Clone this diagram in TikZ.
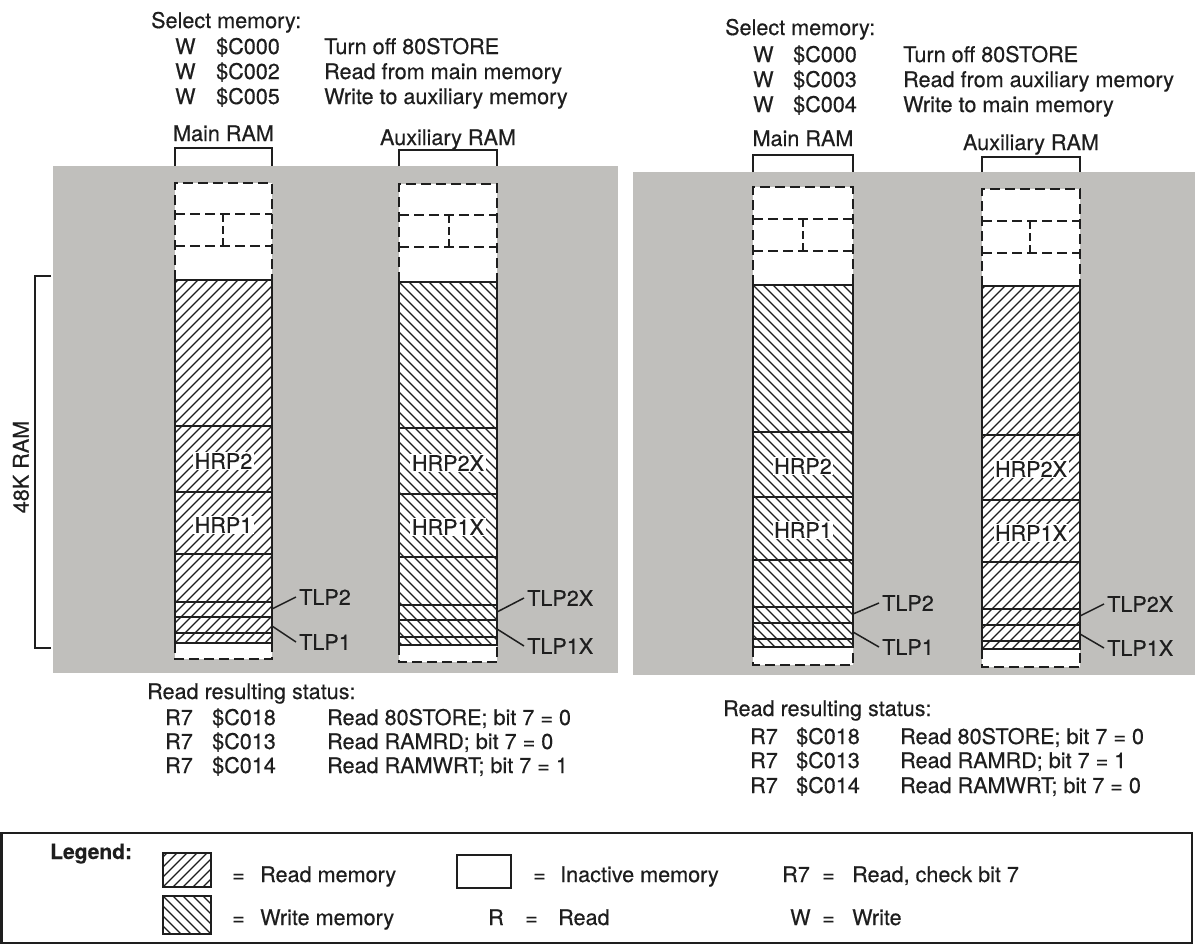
\documentclass[tikz,border=0pt]{standalone}
\usepackage{fontspec}
\setmainfont{TeX Gyre Heros}[FakeBold=0.4]
\definecolor{ink}{RGB}{30,30,30}
\definecolor{panelgray}{RGB}{192,191,188}
\newcommand\hatchfill[5]{%
  \begin{scope}
    \clip (#1,#2) rectangle (#3,#4);
    \foreach \s in {-400,-390,...,120}{%
      \ifnum#5=1 \draw[hatchline] (#1+\s,#4) -- ++(430,-430);%
      \else \draw[hatchline] (#1+\s,#2) -- ++(430,430);\fi}
  \end{scope}}
\begin{document}
\begin{tikzpicture}[x=1pt,y=-1pt,
  every node/.style={font=\fontsize{21.6}{25}\selectfont, text=ink, inner sep=0pt},
  lbl/.style={anchor=base west},
  cl/.style={anchor=base},
  solidline/.style={line width=2pt, draw=ink},
  sepline/.style={line width=1.6pt, draw=ink},
  dashline/.style={line width=2pt, draw=ink, dash pattern=on 10pt off 5pt},
  hatchline/.style={line width=1.3pt, draw=ink},
  hrp/.style={fill=white, inner sep=1.5pt},
  tlp/.style={anchor=west, inner xsep=3pt},
  leader/.style={line width=1.5pt, draw=ink},
]
\useasboundingbox (0,0) rectangle (1195,948);
\fill[white] (0,0) rectangle (1195,948);

% gray panels
\fill[panelgray] (53,166) rectangle (618,673);
\fill[panelgray] (633,172) rectangle (1195,675);

% memory columns
\foreach \xa/\xb/\ybr/\yg/\yd/\ya/\yb/\xi/\yh/\yp/\yq/\yr/\ys/\yt/\yu/\yv/\ye/\dir in {
  175/272/148/166/183/214/246/223/280/426/492/554/602/617/633/643/659/1,
  399/497/150/166/184/215/247/449/282/428/494/557/605/620/637/645/662/-1,
  753/853/155/172/187/219/251/803/285/432/497/560/607/623/639/647/665/-1,
  982/1080/157/172/189/221/253/1030/286/435/500/562/609/625/641/649/667/1}{
  \draw[solidline] (\xa,\yg) -- (\xa,\ybr) -- (\xb,\ybr) -- (\xb,\yg);
  \fill[white] (\xa,\yd) rectangle (\xb,\ye);
  \hatchfill{\xa}{\yh}{\xb}{\yv}{\dir}
  \draw[dashline] (\xa,\yh) -- (\xa,\yd) -- (\xb,\yd) -- (\xb,\yh);
  \draw[dashline] (\xa,\ya) -- (\xb,\ya);
  \draw[dashline] (\xa,\yb) -- (\xb,\yb);
  \draw[dashline, dash pattern=on 8pt off 4pt] (\xi,\ya) -- (\xi,\yb);
  \draw[dashline] (\xa,\yv) -- (\xa,\ye) -- (\xb,\ye) -- (\xb,\yv);
  \draw[solidline] (\xa,\yh) rectangle (\xb,\yv);
  \foreach \yy in {\yp,\yq,\yr,\ys,\yt,\yu}{\draw[sepline] (\xa,\yy) -- (\xb,\yy);}
}

% HRP labels
\node[hrp] (hrp2L) at (223.5,461) {HRP2};
\node[hrp] (hrp1L) at (223.5,525) {HRP1};
\node[hrp] (hrp2xL) at (448,463) {HRP2X};
\node[hrp] (hrp1xL) at (448,527) {HRP1X};
\node[hrp] (hrp2R) at (803,466) {HRP2};
\node[hrp] (hrp1R) at (803,530) {HRP1};
\node[hrp] (hrp2xR) at (1031,469) {HRP2X};
\node[hrp] (hrp1xR) at (1031,533) {HRP1X};

% TLP labels and leaders
\node[tlp] (tlp2L) at (296,597) {TLP2};
\node[tlp] (tlp1L) at (296,642) {TLP1};
\node[tlp] (tlp2xL) at (524,598) {TLP2X};
\node[tlp] (tlp1xL) at (524,646) {TLP1X};
\node[tlp] (tlp2R) at (879,603) {TLP2};
\node[tlp] (tlp1R) at (879,647) {TLP1};
\node[tlp] (tlp2xR) at (1104,604) {TLP2X};
\node[tlp] (tlp1xR) at (1104,648) {TLP1X};
\coordinate (c2L) at (272,609);  \coordinate (c1L) at (272,626);
\coordinate (c2xL) at (497,612); \coordinate (c1xL) at (497,629);
\coordinate (c2R) at (853,614);  \coordinate (c1R) at (853,632);
\coordinate (c2xR) at (1080,616); \coordinate (c1xR) at (1080,634);
\draw[leader] (c2L) -- (tlp2L.west);
\draw[leader] (c1L) -- (tlp1L.west);
\draw[leader] (c2xL) -- (tlp2xL.west);
\draw[leader] (c1xL) -- (tlp1xL.west);
\draw[leader] (c2R) -- (tlp2R.west);
\draw[leader] (c1R) -- (tlp1R.west);
\draw[leader] (c2xR) -- (tlp2xR.west);
\draw[leader] (c1xR) -- (tlp1xR.west);

% 48K RAM bracket
\coordinate (k48t) at (51,276);
\coordinate (k48b) at (51,648);
\draw[solidline] (k48t) -- (35,276) -- (35,648) -- (k48b);
\node[rotate=90] (k48) at (21,467) {48K RAM};

% top texts left
\node[lbl] (selL) at (151,28) {Select memory:};
\node[lbl] (wL1) at (175,54) {W};  \node[lbl] (aL1) at (216,54) {\$C000}; \node[lbl] (dL1) at (324,54) {Turn off 80STORE};
\node[lbl] (wL2) at (175,79) {W};  \node[lbl] (aL2) at (216,79) {\$C002}; \node[lbl] (dL2) at (324,79) {Read from main memory};
\node[lbl] (wL3) at (175,104) {W}; \node[lbl] (aL3) at (216,104) {\$C005}; \node[lbl] (dL3) at (324,104) {Write to auxiliary memory};
\node[cl] (mainL) at (223.5,141) {Main RAM};
\node[cl] (auxL) at (448,145) {Auxiliary RAM};

% top texts right
\node[lbl] (selR) at (725,35) {Select memory:};
\node[lbl] (wR1) at (753,62) {W};  \node[lbl] (aR1) at (793,62) {\$C000}; \node[lbl] (dR1) at (903,62) {Turn off 80STORE};
\node[lbl] (wR2) at (753,87) {W};  \node[lbl] (aR2) at (793,87) {\$C003}; \node[lbl] (dR2) at (903,87) {Read from auxiliary memory};
\node[lbl] (wR3) at (753,112) {W}; \node[lbl] (aR3) at (793,112) {\$C004}; \node[lbl] (dR3) at (903,112) {Write to main memory};
\node[cl] (mainR) at (803,146) {Main RAM};
\node[cl] (auxR) at (1031,150) {Auxiliary RAM};

% bottom texts left
\node[lbl] (stL) at (147,699) {Read resulting status:};
\node[lbl] (rL1) at (165,725) {R7}; \node[lbl] (sL1) at (212,725) {\$C018}; \node[lbl] (eL1) at (327,725) {Read 80STORE; bit 7 = 0};
\node[lbl] (rL2) at (165,749) {R7}; \node[lbl] (sL2) at (212,749) {\$C013}; \node[lbl] (eL2) at (327,749) {Read RAMRD; bit 7 = 0};
\node[lbl] (rL3) at (165,773) {R7}; \node[lbl] (sL3) at (212,773) {\$C014}; \node[lbl] (eL3) at (327,773) {Read RAMWRT; bit 7 = 1};

% bottom texts right
\node[lbl] (stR) at (723,716) {Read resulting status:};
\node[lbl] (rR1) at (750,744) {R7}; \node[lbl] (sR1) at (796,744) {\$C018}; \node[lbl] (eR1) at (900,744) {Read 80STORE; bit 7 = 0};
\node[lbl] (rR2) at (750,768) {R7}; \node[lbl] (sR2) at (796,768) {\$C013}; \node[lbl] (eR2) at (900,768) {Read RAMRD; bit 7 = 1};
\node[lbl] (rR3) at (750,793) {R7}; \node[lbl] (sR3) at (796,793) {\$C014}; \node[lbl] (eR3) at (900,793) {Read RAMWRT; bit 7 = 0};

% legend
\draw[line width=2.2pt, draw=ink] (1.5,833) rectangle (1192,943);
\node[lbl, font=\fontsize{21}{25}\selectfont\bfseries] (leg) at (50,859) {Legend:};
\fill[white] (163,853) rectangle (211,887);
\hatchfill{163}{853}{211}{887}{1}
\draw[solidline] (163,853) rectangle (211,887);
\fill[white] (163,896) rectangle (211,934);
\hatchfill{163}{896}{211}{934}{-1}
\draw[solidline] (163,896) rectangle (211,934);
\draw[solidline, fill=white] (457,855) rectangle (511,888);
\node[lbl] (eqA) at (232,882) {=}; \node[lbl] (tA) at (260,882) {Read memory};
\node[lbl] (eqB) at (232,925) {=}; \node[lbl] (tB) at (260,925) {Write memory};
\node[lbl] (eqC) at (533,882) {=}; \node[lbl] (tC) at (560,882) {Inactive memory};
\node[lbl] (rD) at (488,925) {R}; \node[lbl] (eqD) at (525,925) {=}; \node[lbl] (tD) at (558,925) {Read};
\node[lbl] (rE) at (782,882) {R7}; \node[lbl] (eqE) at (822,882) {=}; \node[lbl] (tE) at (852,882) {Read, check bit 7};
\node[lbl] (wF) at (790,925) {W}; \node[lbl] (eqF) at (822,925) {=}; \node[lbl] (tF) at (852,925) {Write};
\end{tikzpicture}
\end{document}
